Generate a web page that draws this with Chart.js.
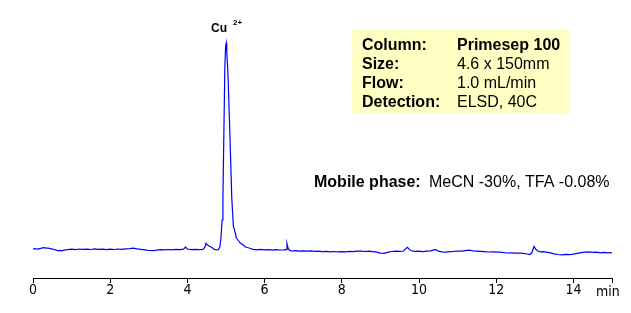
<!DOCTYPE html>
<html>
<head>
<meta charset="utf-8">
<script src="https://cdn.jsdelivr.net/npm/chart.js@4/dist/chart.umd.min.js"></script>
<style>
  html,body{margin:0;padding:0;background:#fff;}
  #wrap{width:631px;height:313px;position:relative;}
</style>
</head>
<body>
<div id="wrap"><canvas id="ch"></canvas></div>
<script>
// retention time (min) and detector signal (arbitrary units, baseline ~29)
const times = [
  0.00,0.05,0.10,0.15,0.20,0.25,0.30,0.35,0.40,0.45,0.50,0.55,0.60,0.65,0.70,0.75,0.80,0.90,
  1.00,1.10,1.20,1.30,1.40,1.50,1.60,1.70,1.80,1.90,2.00,2.10,2.20,2.30,2.40,2.50,2.60,2.70,2.80,2.90,
  3.00,3.10,3.20,3.30,3.40,3.50,3.60,3.70,3.80,3.90,3.95,4.00,4.10,4.20,4.30,4.40,4.45,4.48,4.52,4.56,
  4.60,4.65,4.70,4.75,4.80,4.84,4.87,4.90,4.92,4.945,4.97,4.99,5.005,5.02,5.05,5.10,5.15,5.19,5.24,5.27,
  5.33,5.37,5.45,5.50,5.56,5.63,5.70,5.80,5.90,6.00,6.10,6.20,6.30,6.40,6.50,6.56,6.58,6.61,6.65,6.70,
  6.80,6.90,7.00,7.10,7.20,7.30,7.40,7.50,7.60,7.70,7.80,7.90,8.00,8.10,8.20,8.30,8.40,8.50,8.60,8.70,
  8.80,8.90,9.00,9.10,9.20,9.30,9.40,9.50,9.60,9.67,9.70,9.75,9.80,9.90,10.00,10.10,10.20,10.30,10.40,10.45,
  10.50,10.60,10.70,10.80,10.90,11.00,11.10,11.20,11.30,11.40,11.50,11.60,11.70,11.80,11.90,12.00,12.10,12.20,12.30,12.40,
  12.50,12.60,12.70,12.80,12.86,12.92,12.98,13.02,13.08,13.15,13.20,13.30,13.40,13.50,13.60,13.70,13.80,13.90,14.00,14.10,
  14.20,14.30,14.40,14.50,14.60,14.70,14.80,14.90,15.00
];
const signal = [
  29.0,29.4,28.8,29.2,29.6,30.2,30.4,29.8,29.9,29.3,28.9,28.5,27.9,27.4,27.6,27.2,27.9,28.4,
  28.8,28.4,29.0,28.6,28.9,28.5,29.1,28.7,28.9,28.4,28.8,28.5,29.0,28.7,29.2,29.4,29.9,29.2,28.6,28.2,
  27.5,27.3,27.8,28.4,28.1,28.5,28.2,28.6,28.3,28.8,30.8,29.0,28.4,28.7,28.3,28.6,30.5,34.5,33.0,32.0,
  31.2,30.0,28.6,28.0,28.4,31.0,40.0,58.0,80.0,145.0,211.0,232.0,235.0,226.0,205.0,145.0,80.0,52.0,45.0,40.0,
  37.0,35.0,33.0,31.0,30.5,29.5,28.6,28.2,28.6,28.1,28.4,27.9,28.3,28.0,28.2,28.4,34.5,29.5,27.6,27.0,
  27.3,26.9,27.2,26.8,27.1,26.7,26.9,26.4,26.7,26.2,26.5,26.1,26.4,26.2,26.6,26.3,26.8,26.9,26.5,26.8,
  26.4,25.8,24.9,24.6,25.9,26.5,26.8,26.6,27.0,29.8,30.6,28.6,27.2,26.6,26.8,26.4,26.9,27.2,28.4,28.2,
  26.9,26.2,25.9,26.3,26.6,27.0,26.8,27.3,27.8,27.2,26.9,26.6,26.3,26.0,26.2,25.8,25.9,25.3,25.0,25.2,
  24.8,25.0,24.6,24.0,23.4,25.0,31.5,29.0,27.0,26.2,26.4,25.9,25.1,24.2,23.5,23.2,23.6,23.3,23.8,24.6,
  25.3,25.8,26.1,25.7,25.9,25.2,25.6,25.1,25.3
];
const tickValues = [0, 2, 4, 6, 8, 10, 12, 14, 15];
const axisUnit = 'min';
const peakName = 'Cu';
const peakCharge = '2+';
const peakTime = 5.0;
const infoLabels = ['Column:', 'Size:', 'Flow:', 'Detection:'];
const infoValues = ['Primesep 100', '4.6 x 150mm', '1.0 mL/min', 'ELSD, 40C'];
const mobileLabel = 'Mobile phase:';
const mobileValue = 'MeCN -30%, TFA -0.08%';

const points = times.map((t, i) => ({x: t, y: signal[i]}));

const notes = {
  id: 'notes',
  afterDraw(chart) {
    const ctx = chart.ctx;
    const xs = chart.scales.x;
    ctx.save();
    ctx.fillStyle = '#000';
    ctx.textBaseline = 'alphabetic';
    // peak label
    const px = xs.getPixelForValue(peakTime);
    ctx.font = 'bold 12px "Liberation Sans", Arial, sans-serif';
    ctx.textAlign = 'right';
    ctx.fillText(peakName, px + 1, 32);
    ctx.font = 'bold 8px "Liberation Sans", Arial, sans-serif';
    ctx.textAlign = 'left';
    ctx.fillText(peakCharge, px + 7, 25);
    // info box
    ctx.fillStyle = '#ffffc4';
    ctx.fillRect(352, 29, 218, 85);
    ctx.fillStyle = '#000';
    infoLabels.forEach((lab, i) => {
      const y = 50 + i * 19;
      ctx.font = 'bold 16px "Liberation Sans", Arial, sans-serif';
      ctx.fillText(lab, 362, y);
      ctx.font = (i === 0 ? 'bold ' : '') + '16px "Liberation Sans", Arial, sans-serif';
      ctx.fillText(infoValues[i], 457, y);
    });
    ctx.font = 'bold 16px "Liberation Sans", Arial, sans-serif';
    ctx.fillText(mobileLabel, 314, 187);
    ctx.font = '16px "Liberation Sans", Arial, sans-serif';
    ctx.fillText(mobileValue, 429, 187);
    // axis unit
    ctx.font = '14px "Liberation Sans Narrow", "DejaVu Sans Condensed", Arial, sans-serif';
    ctx.fillText(axisUnit, 596, 296);
    ctx.restore();
  }
};

new Chart(document.getElementById('ch'), {
  type: 'line',
  data: {datasets: [{data: points, borderColor: '#0000ff', borderWidth: 1.2, pointRadius: 0, tension: 0, fill: false}]},
  options: {
    responsive: true, maintainAspectRatio: false, animation: false,
    layout: {padding: {left: 33, right: 19, top: 20, bottom: 16}},
    plugins: {legend: {display: false}, tooltip: {enabled: false}},
    scales: {
      x: {
        type: 'linear', min: 0, max: 15,
        afterBuildTicks: s => { s.ticks = tickValues.map(v => ({value: v})); },
        ticks: {
          color: '#000', maxRotation: 0, autoSkip: false, padding: 0,
          font: {family: '"Liberation Sans Narrow", "DejaVu Sans Condensed", Arial, sans-serif', size: 14, lineHeight: 1},
          callback: v => v === 15 ? '' : v
        },
        grid: {drawOnChartArea: false, drawTicks: true, tickLength: 5, color: '#000'},
        border: {color: '#000', width: 1}
      },
      y: {display: false, min: 0, max: 258}
    }
  },
  plugins: [notes]
});
</script>
</body>
</html>
